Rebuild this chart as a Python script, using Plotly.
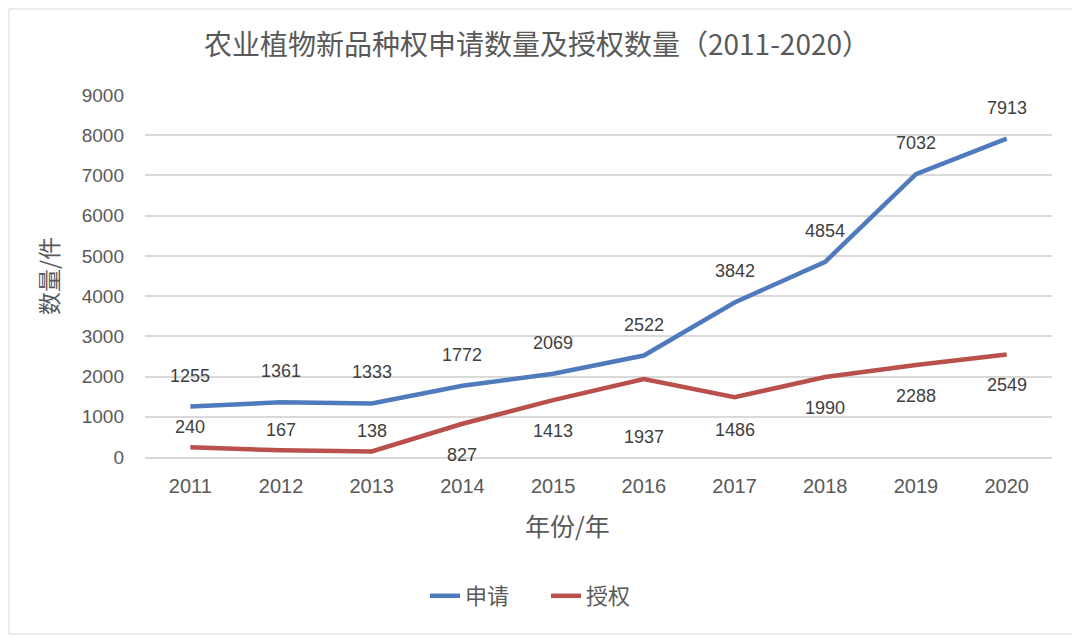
import plotly.graph_objects as go

years = ["2011", "2012", "2013", "2014", "2015", "2016", "2017", "2018", "2019", "2020"]
applications = [1255, 1361, 1333, 1772, 2069, 2522, 3842, 4854, 7032, 7913]
grants = [240, 167, 138, 827, 1413, 1937, 1486, 1990, 2288, 2549]
y_ticks = [0, 1000, 2000, 3000, 4000, 5000, 6000, 7000, 8000, 9000]

blue = "#4f7bbd"
red = "#b9504c"
grey = "#595959"
num_font = "Liberation Sans, Arial, sans-serif"
cjk_font = "Noto Sans CJK SC, sans-serif"

W, H = 1072, 630
L, R, T, B = 137, 28, 87, 181
pw, ph = W - L - R, H - T - B

fig = go.Figure()
fig.add_trace(go.Scatter(x=years, y=applications, mode="lines", name="申请",
                         line=dict(color=blue, width=4.5)))
fig.add_trace(go.Scatter(x=years, y=grants, mode="lines", name="授权",
                         line=dict(color=red, width=4.5)))

annotations = []
for i, v in enumerate(applications):
    annotations.append(dict(x=i, y=v, xref="x", yref="y", text=str(v), showarrow=False, yshift=31,
                            font=dict(family=num_font, size=18, color="#404040")))
red_shift = [20, 20, 20, -31, -31, -58, -33, -31, -31, -31]
for i, (v, s) in enumerate(zip(grants, red_shift)):
    annotations.append(dict(x=i, y=v, xref="x", yref="y", text=str(v), showarrow=False, yshift=s,
                            font=dict(family=num_font, size=18, color="#404040")))
annotations.append(dict(text="年份/年", xref="paper", yref="paper", x=(567 - 145) / pw,
                        y=-(525 - 457) / ph, xanchor="center", yanchor="middle", showarrow=False,
                        font=dict(family=cjk_font, size=25, color=grey)))

fig.update_layout(
    width=W, height=H,
    paper_bgcolor="white", plot_bgcolor="white",
    margin=dict(l=L, r=R, t=T, b=B),
    title=dict(text="农业植物新品种权申请数量及授权数量（2011-2020）",
               x=(537 - 8) / W, xanchor="center", y=1 - 37 / H, yanchor="middle",
               font=dict(family=cjk_font, size=28, color=grey)),
    xaxis=dict(type="category", range=[-0.5, 9.5], showgrid=False,
               showline=True, linecolor="#d9d9d9", linewidth=1.5, ticks="",
               ticklabelstandoff=10,
               tickfont=dict(family=num_font, size=20, color=grey)),
    yaxis=dict(range=[0, 9000], tickvals=y_ticks, showgrid=True, gridcolor="#d9d9d9",
               gridwidth=1.5, zeroline=False, ticks="", ticklabelstandoff=20,
               tickfont=dict(family=num_font, size=19, color=grey),
               title=dict(text="数量/件", font=dict(family=cjk_font, size=23, color=grey), standoff=16)),
    legend=dict(orientation="h", x=(425 - 145) / pw, xanchor="left", y=-(596 - 457) / ph,
                yanchor="middle", entrywidth=76, entrywidthmode="pixels",
                font=dict(family=cjk_font, size=22, color=grey)),
    annotations=annotations,
    shapes=[dict(type="rect", xref="paper", yref="paper",
                 x0=-L / pw + 0.001, x1=(W - 3 - L) / pw,
                 y0=-(B - 4) / ph, y1=(H - 1 - B) / ph,
                 line=dict(color="#d9d9d9", width=1), layer="below")],
)

fig.write_html("out.html")
